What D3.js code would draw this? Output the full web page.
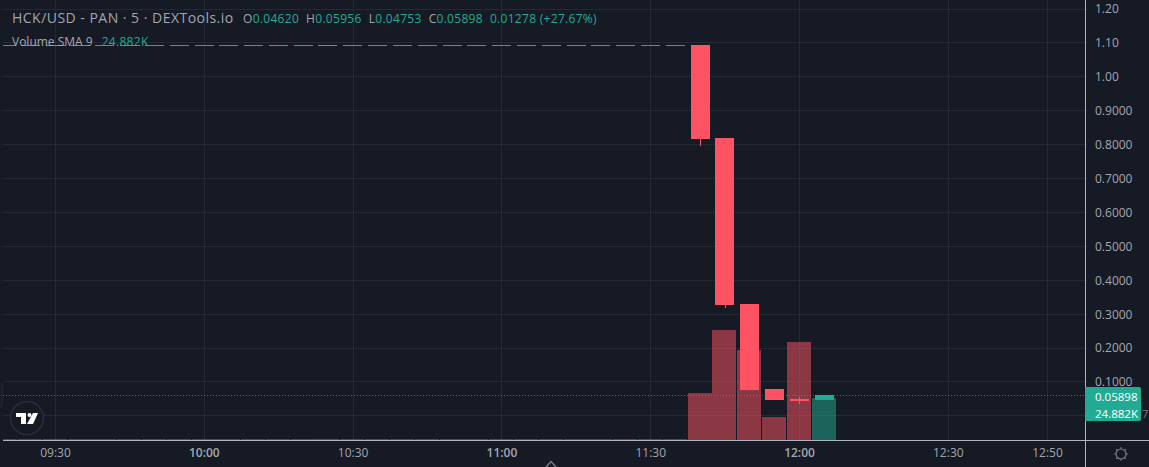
<!DOCTYPE html>
<html>
<head>
<meta charset="utf-8">
<script src="https://cdn.jsdelivr.net/npm/d3@7"></script>
<style>
html, body { margin: 0; padding: 0; background: #161a25; overflow: hidden; }
text { font-family: "Open Sans", "Noto Sans", sans-serif; }
</style>
</head>
<body>
<div id="chart"></div>
<script>
// flat candles up to 11:35, then the drop
var flatTimes = ["09:20","09:25","09:30","09:35","09:40","09:45","09:50","09:55",
  "10:00","10:05","10:10","10:15","10:20","10:25","10:30","10:35","10:40","10:45","10:50","10:55",
  "11:00","11:05","11:10","11:15","11:20","11:25","11:30","11:35"];
var flatDown = ["09:30", "10:25"];
var flatPrice = 1.094;
var flatVolume = 600;

var times  = ["11:40","11:45","11:50","11:55","12:00","12:05"];
var opens  = [1.094, 0.8195, 0.33, 0.0792, 0.0498, 0.0462];
var highs  = [1.094, 0.8195, 0.33, 0.0792, 0.0558, 0.05956];
var lows   = [0.796, 0.3183, 0.0763, 0.0468, 0.0351, 0.0462];
var closes = [0.8165, 0.327, 0.0763, 0.0468, 0.0439, 0.05898];
var volumes = [25700, 60100, 49200, 12600, 53600, 23000];

var priceTicks = [1.2, 1.1, 1.0, 0.9, 0.8, 0.7, 0.6, 0.5, 0.4, 0.3, 0.2, 0.1];
var gridPrices = [1.2, 1.1, 1.0, 0.9, 0.8, 0.7, 0.6, 0.5, 0.4, 0.3, 0.2, 0.1, 0];
var timeTicks = ["09:30","10:00","10:30","11:00","11:30","12:00","12:30","12:50"];
var boldTicks = ["10:00","11:00","12:00"];

var lastPrice = 0.05898;
var legendOhlc = [["O","0.04620"],["H","0.05956"],["L","0.04753"],["C","0.05898"]];

var svgWidth = 1149;
var svgHeight = 467;
var plotLeft = 3, plotRight = 1085, plotBottom = 440;

var bg = "#161a25", gridColor = "#252934", axisColor = "#b2b5be", labelColor = "#a3a6af";
var up = "#22ab94", down = "#ff5364";

function toMinutes(t) {
  var p = t.split(":");
  return +p[0] * 60 + +p[1];
}

var x = d3.scaleLinear().domain([toMinutes("09:30"), toMinutes("12:00")]).range([55, 799]);
var y = d3.scaleLinear().domain([0, 1.2]).range([415.9, 9.1]);
var yVol = d3.scaleLinear().domain([0, 60100]).range([plotBottom, 330]);

var candleW = 19, volW = 24;

var candles = flatTimes.map(function(t) {
  var isDown = flatDown.indexOf(t) >= 0;
  return { t: t, open: flatPrice, high: flatPrice, low: flatPrice, close: flatPrice, volume: flatVolume, down: isDown };
}).concat(times.map(function(t, i) {
  return { t: t, open: opens[i], high: highs[i], low: lows[i], close: closes[i], volume: volumes[i], down: closes[i] < opens[i] };
}));

var svg = d3.select("#chart").append("svg")
  .attr("width", svgWidth)
  .attr("height", svgHeight)
  .style("display", "block");

svg.append("rect").attr("width", svgWidth).attr("height", svgHeight).attr("fill", bg);

svg.append("clipPath").attr("id", "plot").append("rect")
  .attr("x", plotLeft).attr("y", 0).attr("width", plotRight - plotLeft).attr("height", plotBottom);

// grid
svg.append("g").selectAll("line").data(gridPrices).enter().append("line")
  .attr("x1", plotLeft).attr("x2", plotRight)
  .attr("y1", function(d) { return Math.floor(y(d)) + 0.5; })
  .attr("y2", function(d) { return Math.floor(y(d)) + 0.5; })
  .attr("stroke", gridColor);
svg.append("g").selectAll("line").data(timeTicks).enter().append("line")
  .attr("x1", function(d) { return Math.round(x(toMinutes(d))) + 0.5; })
  .attr("x2", function(d) { return Math.round(x(toMinutes(d))) + 0.5; })
  .attr("y1", 0).attr("y2", plotBottom)
  .attr("stroke", gridColor);

var marks = svg.append("g").attr("clip-path", "url(#plot)");

// volume bars
marks.append("g").selectAll("rect").data(candles).enter().append("rect")
  .attr("x", function(d) { return Math.floor(x(toMinutes(d.t)) - 11.8); })
  .attr("width", volW)
  .attr("y", function(d) { return Math.round(yVol(d.volume)); })
  .attr("height", function(d) { return plotBottom - Math.round(yVol(d.volume)); })
  .attr("fill", function(d) { return d.down ? down : up; })
  .attr("fill-opacity", 0.5);

// wicks
marks.append("g").selectAll("line").data(candles).enter().append("line")
  .attr("x1", function(d) { return Math.round(x(toMinutes(d.t))) + 0.5; })
  .attr("x2", function(d) { return Math.round(x(toMinutes(d.t))) + 0.5; })
  .attr("y1", function(d) { return y(d.high); })
  .attr("y2", function(d) { return y(d.low); })
  .attr("stroke", function(d) { return d.down ? down : up; });

// bodies
marks.append("g").selectAll("rect").data(candles).enter().append("rect")
  .attr("x", function(d) { return Math.floor(x(toMinutes(d.t)) - 8.8); })
  .attr("width", candleW)
  .attr("y", function(d) { return Math.floor(y(Math.max(d.open, d.close))); })
  .attr("height", function(d) {
    return Math.max(1, Math.floor(y(Math.min(d.open, d.close))) - Math.floor(y(Math.max(d.open, d.close))));
  })
  .attr("fill", function(d) { return d.down ? down : up; });

// last price line
svg.append("line")
  .attr("x1", plotLeft).attr("x2", plotRight)
  .attr("y1", Math.floor(y(lastPrice)) + 0.5).attr("y2", Math.floor(y(lastPrice)) + 0.5)
  .attr("stroke", up)
  .attr("stroke-opacity", 0.75)
  .attr("stroke-dasharray", "1 2");

// price axis
var rightAxis = d3.axisRight(y)
  .tickValues(priceTicks)
  .tickSize(0)
  .tickPadding(10)
  .tickFormat(function(d) { return d >= 1 ? d3.format(".2f")(d) : d3.format(".4f")(d); });
var priceAxis = svg.append("g").attr("transform", "translate(" + plotRight + ",0)").call(rightAxis);
priceAxis.select(".domain").remove();
priceAxis.selectAll("text").attr("fill", labelColor).style("font-size", "12px");

// time axis
var bottomAxis = d3.axisBottom(x)
  .tickValues(timeTicks.map(toMinutes))
  .tickSize(0)
  .tickPadding(8)
  .tickFormat(function(d) { return timeTicks[timeTicks.map(toMinutes).indexOf(d)]; });
var timeAxis = svg.append("g").attr("transform", "translate(0," + plotBottom + ")").call(bottomAxis);
timeAxis.select(".domain").remove();
timeAxis.selectAll("text")
  .attr("fill", labelColor)
  .style("font-size", "12px")
  .style("font-weight", function(d, i) { return boldTicks.indexOf(timeTicks[i]) >= 0 ? 600 : 400; });

// axis borders
svg.append("line").attr("x1", plotLeft).attr("x2", svgWidth).attr("y1", plotBottom + 0.5).attr("y2", plotBottom + 0.5).attr("stroke", axisColor);
svg.append("line").attr("x1", plotRight + 0.5).attr("x2", plotRight + 0.5).attr("y1", 0).attr("y2", svgHeight).attr("stroke", axisColor);

// tail of a label hidden behind the tag
svg.append("text").attr("x", 1142).attr("y", 418).attr("fill", "#787b86").style("font-size", "11px").text("7");

// last value tag
svg.append("path")
  .attr("d", "M1085,387H1139a2,2 0 0 1 2,2V419a2,2 0 0 1 -2,2H1085Z")
  .attr("fill", up);
svg.append("text").attr("x", 1095).attr("y", 400.5).attr("fill", "#fff").style("font-size", "11.5px").text("0.05898");
svg.append("text").attr("x", 1095).attr("y", 417.5).attr("fill", "#fff").style("font-size", "11.5px").text("24.882K");

// legend
svg.append("text").attr("x", 12).attr("y", 23)
  .attr("fill", labelColor)
  .style("font-size", "14px")
  .style("letter-spacing", "0.48px")
  .text("HCK/USD - PAN · 5 · DEXTools.io");

var ohlc = svg.append("text").attr("x", 243).attr("y", 23).style("font-size", "12px").style("letter-spacing", "0.3px");
legendOhlc.forEach(function(d, i) {
  ohlc.append("tspan").attr("fill", labelColor).attr("dx", i == 0 ? 0 : 7).text(d[0]);
  ohlc.append("tspan").attr("fill", up).text(d[1]);
});
ohlc.append("tspan").attr("fill", up).attr("dx", 7).text("0.01278 (+27.67%)");

svg.append("text").attr("x", 12).attr("y", 46).style("font-size", "12px")
  .call(function(t) {
    t.append("tspan").attr("fill", labelColor).text("Volume SMA 9");
    t.append("tspan").attr("fill", up).attr("dx", 9).style("letter-spacing", "0.3px").text("24.882K");
  });

// tradingview badge
svg.append("circle").attr("cx", 27).attr("cy", 418).attr("r", 16.5).attr("fill", bg).attr("stroke", "#2a2e39").attr("stroke-width", 1.5);
svg.append("path").attr("d", "M16,413H26V424H21V417H16Z M33,413H38L33,424H27Z").attr("fill", "#fff");
svg.append("circle").attr("cx", 29.5).attr("cy", 415).attr("r", 2).attr("fill", "#fff");

// settings gear
svg.append("circle").attr("cx", 1121).attr("cy", 454).attr("r", 5).attr("fill", "none").attr("stroke", "#787b86").attr("stroke-width", 1.2);
[0, 45, 90, 135, 180, 225, 270, 315].forEach(function(a) {
  svg.append("line").attr("x1", 1121).attr("x2", 1121).attr("y1", 447).attr("y2", 449)
    .attr("stroke", "#787b86").attr("transform", "rotate(" + a + " 1121 454)");
});

// collapse chevron and left edge handle
svg.append("path").attr("d", "M546,467L551,461.5L556,467").attr("fill", "none").attr("stroke", "#787b86").attr("stroke-width", 1.5);
svg.append("path").attr("d", "M0,384H0.5a1.5,1.5 0 0 1 1.5,1.5V406a1.5,1.5 0 0 1 -1.5,1.5H0").attr("fill", "none").attr("stroke", "#2a2e39");
</script>
</body>
</html>
